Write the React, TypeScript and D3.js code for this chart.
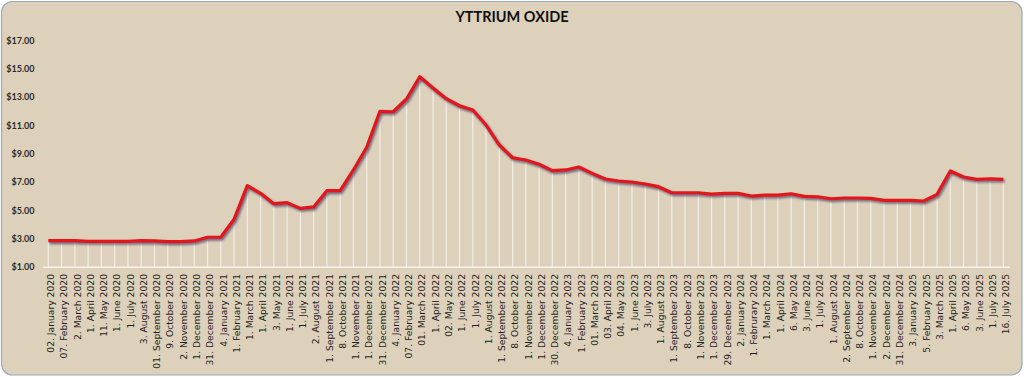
import React from "react";
import * as d3 from "d3";

const categories: string[] = [
  "02. January 2020", "07. February 2020", "2. March 2020", "1. April 2020", "11. May 2020",
  "1. June 2020", "1. July 2020", "3. August 2020", "01. September 2020", "9. October 2020",
  "2. November 2020", "1. December 2020", "31. December 2020", "4. January 2021", "1. February 2021",
  "1. March 2021", "1. April 2021", "3. May 2021", "1. June 2021", "1. July 2021",
  "2. August 2021", "1. September 2021", "8. October 2021", "1. November 2021", "1. December 2021",
  "31. December 2021", "4. January 2022", "07. February 2022", "01. March 2022", "1. April 2022",
  "02. May 2022", "1. June 2022", "1. July 2022", "1. August 2022", "1. September 2022",
  "8. October 2022", "1. November 2022", "1. December 2022", "30. December 2022", "4. January 2023",
  "1. February 2023", "01. March 2023", "03. April 2023", "04. May 2023", "1. June 2023",
  "3. July 2023", "1. August 2023", "1. September 2023", "8. October 2023", "1. November 2023",
  "1. December 2023", "29. December 2023", "2. January 2024", "1. Februrary 2024", "1. March 2024",
  "1. April 2024", "6. May 2024", "3. June 2024", "1. July 2024", "1. August 2024",
  "2. September 2024", "8. October 2024", "1. November 2024", "2. December 2024", "31. December 2024",
  "3. January 2025", "5. February 2025", "3. March 2025", "1. April 2025", "6. May 2025",
  "3. June 2025", "1. July 2025", "16. July 2025",
];

const prices: number[] = [
  2.88, 2.88, 2.88, 2.83, 2.83, 2.83, 2.83, 2.88, 2.86, 2.81,
  2.81, 2.86, 3.12, 3.12, 4.39, 6.76, 6.22, 5.49, 5.56, 5.16,
  5.26, 6.41, 6.41, 7.87, 9.47, 12.01, 11.98, 12.88, 14.45, 13.65,
  12.90, 12.40, 12.10, 11.04, 9.63, 8.73, 8.57, 8.27, 7.82, 7.87,
  8.08, 7.63, 7.23, 7.09, 7.02, 6.88, 6.69, 6.26, 6.26, 6.26,
  6.17, 6.22, 6.22, 6.03, 6.10, 6.10, 6.19, 6.01, 5.98, 5.84,
  5.89, 5.89, 5.87, 5.73, 5.73, 5.73, 5.68, 6.15, 7.80, 7.37,
  7.21, 7.25, 7.21,
];

const yTicks: number[] = [1, 3, 5, 7, 9, 11, 13, 15, 17];
const title = "YTTRIUM OXIDE";

const W = 1024;
const H = 377;

export default function App() {
  const x = d3.scalePoint<string>().domain(categories).range([41.7, 1010]).padding(0.5);
  const y = d3.scaleLinear().domain([1, 17]).range([267.3, 40.6]);
  const fmt = (v: number) => "$" + d3.format(".2f")(v);

  const data = categories.map((c, i) => ({ c, v: prices[i] }));
  const line = d3
    .line<{ c: string; v: number }>()
    .x((d) => x(d.c) as number)
    .y((d) => y(d.v));
  const path = line(data) || "";

  return (
    <svg
      width={W}
      height={H}
      style={{ position: "absolute", left: 0, top: 0, display: "block" }}
    >
      <defs>
        <filter id="shadowBlur" x="-5%" y="-5%" width="110%" height="110%">
          <feGaussianBlur stdDeviation="0.8" />
        </filter>
      </defs>
      <rect x={0} y={0} width={W} height={H} fill="#ffffff" />
      <rect
        x={1.5}
        y={1.5}
        width={W - 3.5}
        height={H - 3.5}
        rx={11}
        ry={11}
        fill="#ddd1bb"
        stroke="#9aa9bf"
        strokeWidth={1.2}
      />
      <text
        x={512}
        y={22}
        textAnchor="middle"
        fontFamily="Lato, 'Open Sans', sans-serif"
        fontWeight={700}
        fontSize={14.5}
        fill="#111111"
      >
        {title}
      </text>

      {yTicks.map((t) => (
        <text
          key={t}
          x={34.5}
          y={y(t)}
          dy="0.35em"
          textAnchor="end"
          fontFamily="Lato, 'Open Sans', sans-serif"
          fontWeight={700}
          fontSize={9}
          fill="#2a2a2a"
        >
          {fmt(t)}
        </text>
      ))}

      {data.map((d) => (
        <line
          key={"drop" + d.c}
          x1={x(d.c) as number}
          x2={x(d.c) as number}
          y1={y(d.v)}
          y2={y(1)}
          stroke="#ffffff"
          strokeOpacity={0.6}
          strokeWidth={1.3}
        />
      ))}

      <line x1={43} x2={1010} y1={y(1)} y2={y(1)} stroke="#f7f3ec" strokeWidth={1.6} />

      <path
        d={path}
        fill="none"
        stroke="#4f4466"
        strokeOpacity={0.75}
        strokeWidth={3.4}
        strokeLinejoin="round"
        transform="translate(1.3,1.8)"
        filter="url(#shadowBlur)"
      />
      <path
        d={path}
        fill="none"
        stroke="#e3161c"
        strokeWidth={3.2}
        strokeLinejoin="round"
      />

      {categories.map((c) => (
        <text
          key={"lbl" + c}
          transform={`translate(${(x(c) as number) + 2.5},274) rotate(-90)`}
          dy="0.35em"
          textAnchor="end"
          fontFamily="'DejaVu Sans', Verdana, sans-serif"
          fontSize={9.2}
          fill="#1e1e1e"
        >
          {c}
        </text>
      ))}
    </svg>
  );
}
